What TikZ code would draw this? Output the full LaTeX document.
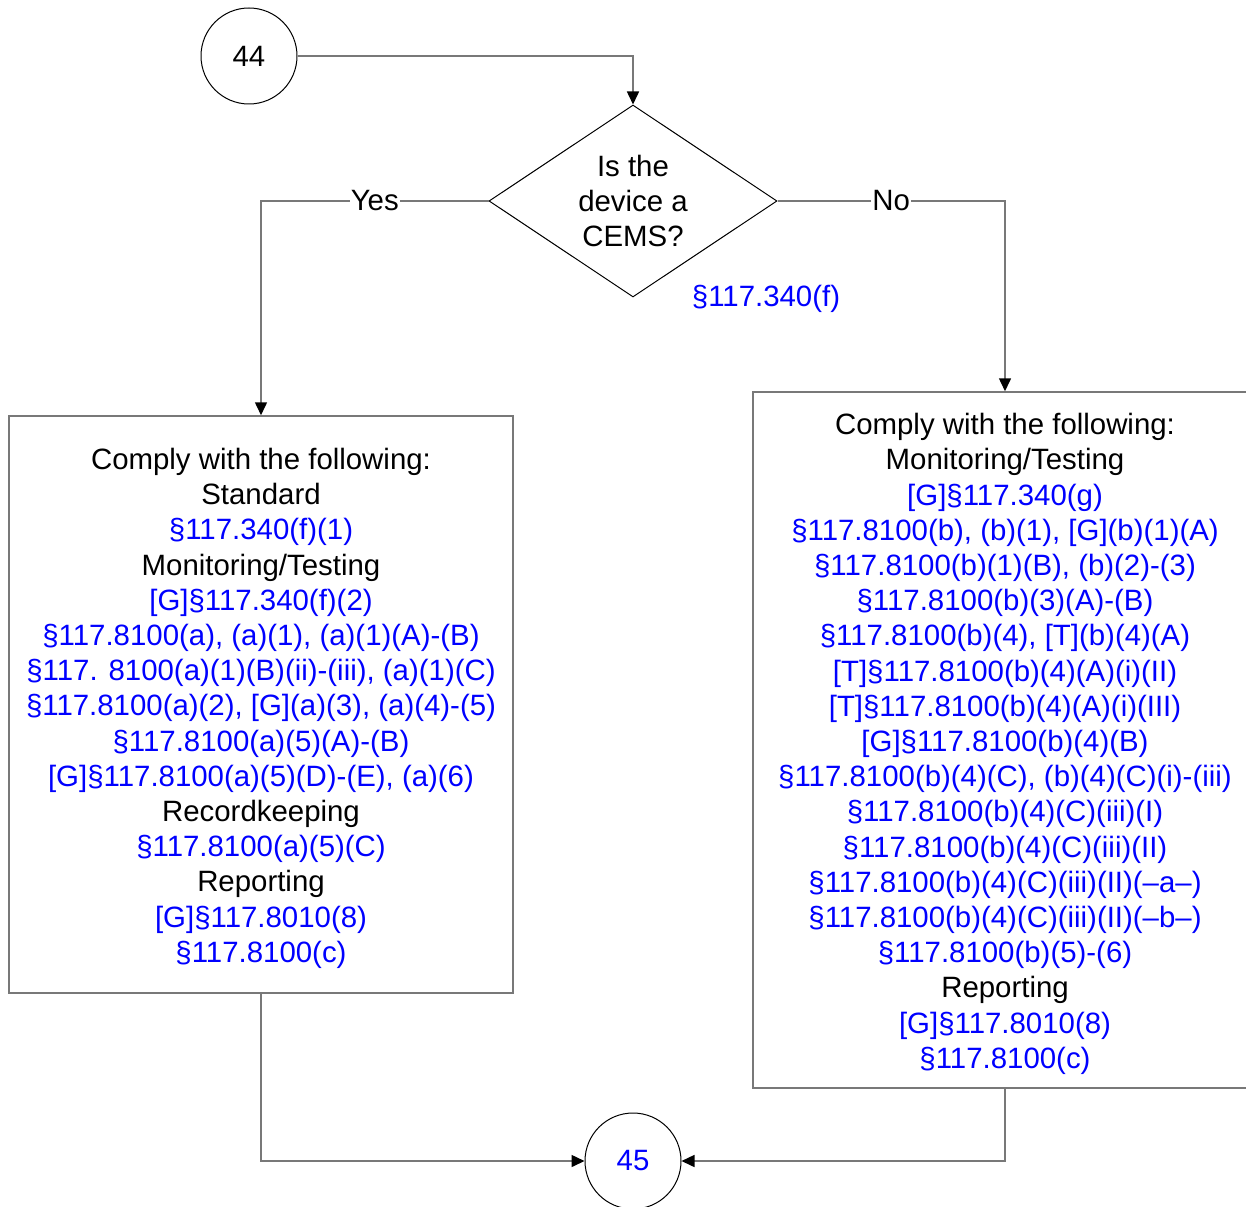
\documentclass[tikz,border=0pt]{standalone}
\usepackage{fontspec}
\setmainfont{Liberation Sans}
\usetikzlibrary{shapes.geometric,arrows.meta}
\definecolor{refblue}{RGB}{0,0,255}
\definecolor{linegray}{RGB}{120,120,120}
\newcommand{\firstline}{\rule{0pt}{29pt}}
\tikzset{
  txt/.style={font=\fontsize{29.4}{35.2}\selectfont},
  conn/.style={draw=linegray, line width=1.5pt},
  tip/.style={-{Triangle[length=13pt,width=12pt,color=black]}},
  conncircle/.style={circle, draw=black, line width=1pt, minimum size=96pt, inner sep=0pt, txt},
  decision/.style={diamond, draw=black, line width=1pt, minimum width=288pt, minimum height=192pt, inner sep=0pt, aspect=1.5, align=center, txt},
  reqbox/.style={rectangle, draw=linegray, line width=1.5pt, minimum width=504pt, align=center, txt},
  lbl/.style={fill=white, inner sep=1pt, txt}
}
\begin{document}
\begin{tikzpicture}[x=1pt,y=-1pt]
\useasboundingbox (0,0) rectangle (1246,1206);
\node[conncircle] (c44) at (249,56) {44};
\node[decision] (dec) at (633,201) {Is the\\device a\\CEMS?};
\node[txt, text=refblue] (ref340) at (766,299) {§117.340(f)};
\node[reqbox, minimum height=577pt] (lbox) at (261,704.5) {\firstline Comply with the following:\\Standard\\
\textcolor{refblue}{§117.340(f)(1)}\\Monitoring/Testing\\
\textcolor{refblue}{[G]§117.340(f)(2)}\\
\textcolor{refblue}{§117.8100(a), (a)(1), (a)(1)(A)-(B)}\\
\textcolor{refblue}{§117. 8100(a)(1)(B)(ii)-(iii), (a)(1)(C)}\\
\textcolor{refblue}{§117.8100(a)(2), [G](a)(3), (a)(4)-(5)}\\
\textcolor{refblue}{§117.8100(a)(5)(A)-(B)}\\
\textcolor{refblue}{[G]§117.8100(a)(5)(D)-(E), (a)(6)}\\
Recordkeeping\\
\textcolor{refblue}{§117.8100(a)(5)(C)}\\
Reporting\\
\textcolor{refblue}{[G]§117.8010(8)}\\
\textcolor{refblue}{§117.8100(c)}};
\node[reqbox, minimum height=696pt] (rbox) at (1005,740) {\firstline Comply with the following:\\Monitoring/Testing\\
\textcolor{refblue}{[G]§117.340(g)}\\
\textcolor{refblue}{§117.8100(b), (b)(1), [G](b)(1)(A)}\\
\textcolor{refblue}{§117.8100(b)(1)(B), (b)(2)-(3)}\\
\textcolor{refblue}{§117.8100(b)(3)(A)-(B)}\\
\textcolor{refblue}{§117.8100(b)(4), [T](b)(4)(A)}\\
\textcolor{refblue}{[T]§117.8100(b)(4)(A)(i)(II)}\\
\textcolor{refblue}{[T]§117.8100(b)(4)(A)(i)(III)}\\
\textcolor{refblue}{[G]§117.8100(b)(4)(B)}\\
\textcolor{refblue}{§117.8100(b)(4)(C), (b)(4)(C)(i)-(iii)}\\
\textcolor{refblue}{§117.8100(b)(4)(C)(iii)(I)}\\
\textcolor{refblue}{§117.8100(b)(4)(C)(iii)(II)}\\
\textcolor{refblue}{§117.8100(b)(4)(C)(iii)(II)(–a–)}\\
\textcolor{refblue}{§117.8100(b)(4)(C)(iii)(II)(–b–)}\\
\textcolor{refblue}{§117.8100(b)(5)-(6)}\\
Reporting\\
\textcolor{refblue}{[G]§117.8010(8)}\\
\textcolor{refblue}{§117.8100(c)}};
\node[conncircle, text=refblue] (c45) at (633,1161) {45};
\draw[conn, tip] (c44.east) -| (dec.north);
\draw[conn, tip] (dec.west) -| node[pos=0.25, lbl] (yes) {Yes} (lbox.north);
\draw[conn, tip] (dec.east) -| node[pos=0.25, lbl] (no) {No} (rbox.north);
\draw[conn, tip] (lbox.south) |- (c45.west);
\draw[conn, tip] (rbox.south) |- (c45.east);
\end{tikzpicture}
\end{document}
